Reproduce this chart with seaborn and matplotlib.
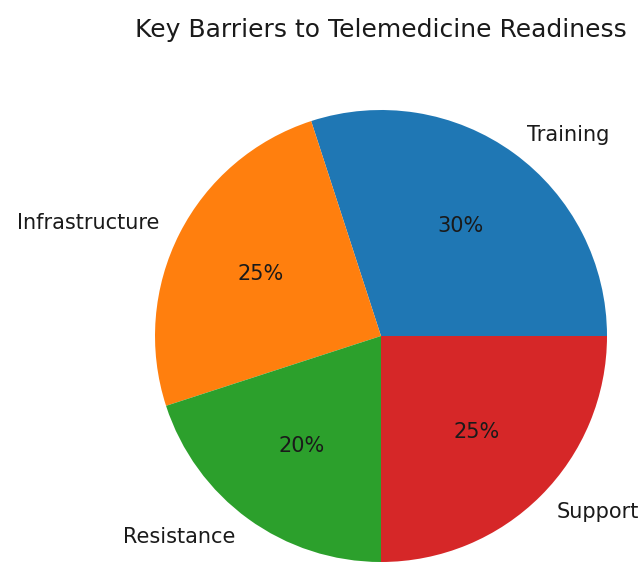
import matplotlib
matplotlib.use("Agg")
import matplotlib.pyplot as plt
import seaborn as sns

sns.set_theme(style="white")
plt.rcParams['font.family'] = ['DejaVu Sans']

categories = ["Training", "Infrastructure", "Resistance", "Support"]
values = [30, 25, 20, 25]
colors = sns.color_palette("tab10", 4)

W, H = 642, 566
fig = plt.figure(figsize=(W / 100, H / 100), dpi=100)
cx, cy, r = 381, 336, 226
side = 2.5 * r
ax = fig.add_axes([(cx - side / 2) / W, (H - cy - side / 2) / H, side / W, side / H])
ax.pie(values, labels=categories, colors=colors, autopct="%1.0f%%",
       wedgeprops={"linewidth": 0, "edgecolor": "none"},
       textprops={"fontsize": 15, "color": "#1a1a1a"})
ax.set_aspect("equal")
fig.text(cx / W, 1 - 30 / H, "Key Barriers to Telemedicine Readiness",
         ha="center", va="center", fontsize=18, color="#1a1a1a")
fig.savefig("out.png", dpi=100)
